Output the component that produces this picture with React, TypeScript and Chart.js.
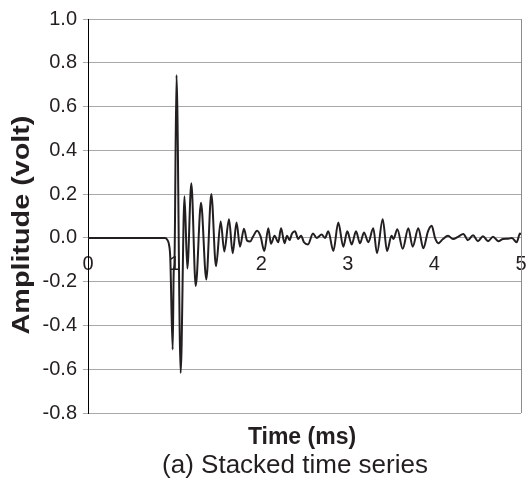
import React, { useEffect, useRef } from 'react';
import { Chart, registerables } from 'chart.js';

Chart.register(...registerables);

// Time (ms) and amplitude (volt)
const timeMs = [
  0, 0.5, 0.85, 0.889, 0.915, 0.935, 0.950, 0.978, 0.990, 0.998, 1.022, 1.070,
  1.114, 1.147, 1.193, 1.244, 1.305, 1.366, 1.424, 1.478, 1.532, 1.574,
  1.628, 1.671, 1.715, 1.755, 1.801, 1.836, 1.871, 1.905, 1.952, 1.992,
  2.036, 2.082, 2.113, 2.154, 2.197, 2.229, 2.269, 2.298, 2.327, 2.356,
  2.390, 2.428, 2.460, 2.494, 2.540, 2.598, 2.641, 2.698, 2.737, 2.775,
  2.833, 2.890, 2.948, 2.994, 3.045, 3.095, 3.141, 3.187, 3.237, 3.294,
  3.337, 3.403, 3.453, 3.505, 3.528, 3.572, 3.634, 3.699, 3.749, 3.814,
  3.872, 3.926, 3.969, 4.007, 4.045, 4.099, 4.157, 4.215, 4.273, 4.334,
  4.388, 4.446, 4.503, 4.561, 4.619, 4.677, 4.738, 4.792, 4.850, 4.896,
  4.950, 4.988, 5.0,
];
const amplitudeV = [
  0, 0, 0, 0, -0.008, -0.03, -0.09, -0.51, -0.15, -0.12, 0.744, -0.617,
  0.19, -0.14, 0.25, -0.22, 0.16, -0.19, 0.2, -0.13, 0.075, -0.062,
  0.085, -0.07, 0.07, -0.04, 0.042, -0.012, -0.017, 0.005, 0.033, 0.008,
  -0.06, 0.044, -0.027, 0.01, -0.02, 0.044, -0.024, 0.01, -0.01, 0.02,
  0.03, -0.005, 0.01, -0.02, -0.03, 0.02, 0.0, 0.015, 0.0, 0.03,
  -0.06, 0.07, -0.04, 0.03, -0.03, 0.03, -0.025, 0.025, -0.02, 0.044,
  -0.07, 0.085, -0.06, 0.01, -0.005, 0.04, -0.05, 0.044, -0.04, 0.044,
  -0.047, 0.03, 0.055, 0.0, -0.024, -0.005, 0.01, -0.005, 0.005, 0.018,
  -0.01, 0.012, -0.015, 0.008, -0.015, 0.005, -0.015, -0.005, -0.004, 0.0,
  -0.02, 0.02, 0.015,
];
const xTickValues = [0, 1, 2, 3, 4, 5];
const yTickValues = [-0.8, -0.6, -0.4, -0.2, 0.0, 0.2, 0.4, 0.6, 0.8, 1.0];
const xTitle = 'Time (ms)';
const yTitle = 'Amplitude (volt)';
const caption = '(a) Stacked time series';

const TEXT = '#231f20';
const GRID = '#a9a9a9';

const decorPlugin = {
  id: 'decor',
  beforeDatasetsDraw(chart: any) {
    const { ctx, chartArea } = chart;
    ctx.save();
    ctx.strokeStyle = '#8c8c8c';
    ctx.lineWidth = 1;
    ctx.beginPath();
    ctx.moveTo(Math.round(chartArea.right) + 0.5, chartArea.top);
    ctx.lineTo(Math.round(chartArea.right) + 0.5, chartArea.bottom);
    ctx.stroke();
    ctx.restore();
  },
  afterDraw(chart: any) {
    const { ctx, chartArea } = chart;
    ctx.save();
    ctx.fillStyle = TEXT;
    ctx.textAlign = 'center';
    ctx.textBaseline = 'middle';
    ctx.font = 'bold 23px "Liberation Sans", Arial, sans-serif';
    ctx.fillText(xTitle, 302, chartArea.bottom + 25);
    ctx.font = '26px "Liberation Sans", Arial, sans-serif';
    ctx.fillText(caption, 295, chartArea.bottom + 53);
    ctx.translate(23, 225);
    ctx.rotate(-Math.PI / 2);
    ctx.scale(1.25, 1);
    ctx.font = 'bold 23px "Liberation Sans", Arial, sans-serif';
    ctx.fillText(yTitle, 0, 0);
    ctx.restore();
  },
};

export default function App() {
  const canvasRef = useRef<HTMLCanvasElement | null>(null);

  useEffect(() => {
    const canvas = canvasRef.current;
    if (!canvas) return;
    const points = timeMs.map((t, i) => ({ x: t, y: amplitudeV[i] }));
    const chart = new Chart(canvas, {
      type: 'line',
      data: {
        datasets: [
          {
            data: points,
            borderColor: TEXT,
            borderWidth: 2,
            pointRadius: 0,
            fill: false,
            cubicInterpolationMode: 'monotone',
          },
        ],
      },
      options: {
        responsive: false,
        animation: false,
        layout: { padding: { left: 0, right: 5, top: 19, bottom: 71 } },
        plugins: {
          legend: { display: false },
          tooltip: { enabled: false },
        },
        scales: {
          x: {
            type: 'linear',
            position: { y: 0 },
            min: 0,
            max: 5,
            afterBuildTicks: (scale: any) => {
              scale.ticks = xTickValues.map((v) => ({ value: v }));
            },
            afterFit: (scale: any) => {
              scale.paddingLeft = 0;
              scale.paddingRight = 0;
            },
            grid: { display: false, drawTicks: false },
            border: { display: false },
            ticks: {
              padding: 15,
              color: TEXT,
              font: { family: '"Liberation Sans", Arial, sans-serif', size: 20 },
              callback: (v: any) => String(v),
              maxRotation: 0,
              autoSkip: false,
            },
          },
          y: {
            type: 'linear',
            min: -0.8,
            max: 1.0,
            afterBuildTicks: (scale: any) => {
              scale.ticks = yTickValues.map((v) => ({ value: v }));
            },
            afterFit: (scale: any) => {
              scale.width = 88;
            },
            grid: { color: GRID, lineWidth: 1, tickLength: 5, drawTicks: true },
            border: { display: true, color: '#000', width: 1 },
            ticks: {
              padding: 6,
              color: TEXT,
              font: { family: '"Liberation Sans", Arial, sans-serif', size: 20 },
              callback: (v: any) => (Math.abs(Number(v)) < 1e-9 ? '0.0' : Number(v).toFixed(1)),
              autoSkip: false,
            },
          },
        },
      },
      plugins: [decorPlugin],
    } as any);
    return () => chart.destroy();
  }, []);

  return (
    <div style={{ position: 'fixed', left: 0, top: 0, width: 526, height: 484, background: '#fff' }}>
      <canvas ref={canvasRef} width={526} height={484} style={{ display: 'block', width: 526, height: 484 }} />
    </div>
  );
}
